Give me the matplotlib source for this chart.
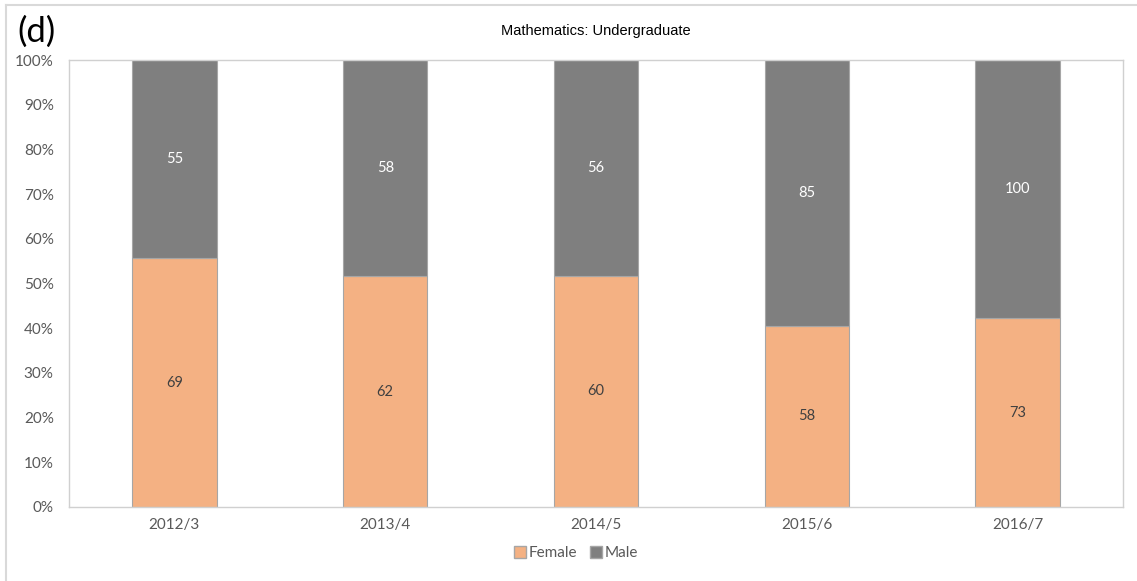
import matplotlib.pyplot as plt
import numpy as np
from matplotlib.patches import Patch

# Student counts per academic year
years = ["2012/3", "2013/4", "2014/5", "2015/6", "2016/7"]
female = [69, 62, 60, 58, 73]
male = [55, 58, 56, 85, 100]

female = np.array(female, dtype=float)
male = np.array(male, dtype=float)
total = female + male
f_share = female / total
m_share = male / total

c_female = "#F4B183"
c_male = "#7F7F7F"
grey_txt = "#595959"

plt.rcParams['font.family'] = ['Lato', 'DejaVu Sans']

fig = plt.figure(figsize=(11.37, 5.81), dpi=100)
ax = fig.add_axes([69 / 1137, 1 - 507 / 581, (1123 - 69) / 1137, (507 - 60) / 581])

x = np.arange(len(years))
ax.bar(x, f_share, width=0.4, color=c_female, edgecolor="#A6A6A6", linewidth=0.8)
ax.bar(x, m_share, width=0.4, bottom=f_share, color=c_male, edgecolor="#A6A6A6", linewidth=0.8)

# counts written in the middle of each segment
for i in range(len(years)):
    ax.text(x[i], f_share[i] / 2, f"{int(female[i])}", ha="center", va="center",
            fontsize=10.5, color="#404040")
    ax.text(x[i], f_share[i] + m_share[i] / 2, f"{int(male[i])}", ha="center", va="center",
            fontsize=10.5, color="white")

ax.set_xlim(-0.5, len(years) - 0.5)
ax.set_ylim(0, 1)
ax.set_yticks(np.arange(0, 1.01, 0.1))
ax.set_yticklabels([f"{int(round(v * 100))}%" for v in np.arange(0, 1.01, 0.1)])
ax.set_xticks(x)
ax.set_xticklabels(years)
ax.tick_params(length=0, labelsize=11, colors=grey_txt, pad=8)
ax.tick_params(axis="y", pad=11)
for s in ax.spines.values():
    s.set_color("#D0D0D0")
    s.set_linewidth(1)

ax.set_title("Mathematics: Undergraduate", fontsize=10.5, color="black",
             family=['Liberation Sans', 'DejaVu Sans'], pad=18)

fig.text(17 / 1137, 1 - 32 / 581, "(d)", fontsize=25, va="center", ha="left", color="black")

handles = [Patch(facecolor=c_female, edgecolor="#A6A6A6", label="Female"),
           Patch(facecolor=c_male, edgecolor="#A6A6A6", label="Male")]
fig.legend(handles=handles, loc="center", bbox_to_anchor=(576 / 1137, 1 - 553 / 581),
           ncol=2, frameon=False, fontsize=11, handlelength=0.8, handleheight=0.8,
           handletextpad=0.2, columnspacing=0.8, labelcolor=grey_txt)

# outer chart border
fig.add_artist(plt.Line2D([6 / 1137, 6 / 1137], [0, 1 - 5 / 581], transform=fig.transFigure,
                          color="#D9D9D9", linewidth=1.5))
fig.add_artist(plt.Line2D([6 / 1137, 1], [1 - 5 / 581, 1 - 5 / 581], transform=fig.transFigure,
                          color="#D9D9D9", linewidth=1.5))

fig.savefig("out.png", dpi=100)
